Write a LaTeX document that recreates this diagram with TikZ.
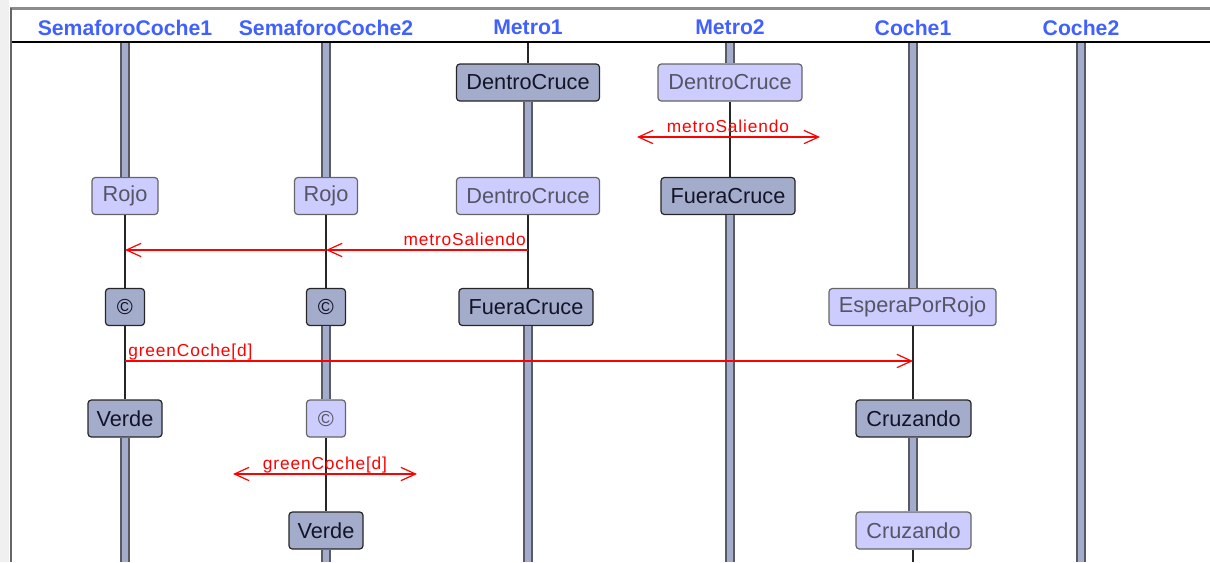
\documentclass[tikz,border=0pt]{standalone}
\usepackage{fontspec}
\setmainfont{Liberation Sans}
\newfontfamily\msgfont[LetterSpace=5]{Liberation Sans}
\usetikzlibrary{arrows.meta}

\definecolor{hdrblue}{RGB}{64,96,255}
\definecolor{barfill}{RGB}{164,172,204}
\definecolor{barline}{RGB}{90,90,100}
\definecolor{lightfill}{RGB}{204,204,255}
\definecolor{msgred}{RGB}{255,0,0}
\definecolor{darktext}{RGB}{20,20,40}
\definecolor{lighttext}{RGB}{85,85,100}

\tikzset{
  statebox/.style={rectangle, rounded corners=2.5pt, minimum height=27.75pt,
    inner sep=0pt, line width=0.9pt, font=\fontsize{16.3}{19}\selectfont},
  active/.style={statebox, fill=barfill, draw=black!85, text=darktext},
  passive/.style={statebox, fill=lightfill, draw=black!60, text=lighttext},
  bar/.style={draw=barline, line width=1.2pt, double=barfill, double distance=5.2pt},
  wire/.style={draw=black!85, line width=0.9pt},
  msg/.style={draw=msgred, line width=0.9pt},
  msglabel/.style={text=msgred, inner sep=0pt, font=\msgfont\fontsize{13}{15}\selectfont},
  header/.style={text=hdrblue, inner sep=0pt, font=\bfseries\fontsize{15.9}{18}\selectfont},
  >={Straight Barb[length=11pt,width=10pt]}
}

\begin{document}
\begin{tikzpicture}[x=0.75pt, y=-0.75pt]
\useasboundingbox (0,0) rectangle (1210,562);

% window frame
\fill[black!6] (0,0) rectangle (9,562);
\draw[black!45, line width=2pt] (10,8.5) -- (1210,8.5);
\draw[black!60, line width=1.6pt] (10.8,8) -- (10.8,562);
\draw[black, line width=1.3pt] (12,42) -- (1210,42);

% lifeline headers
\node[header] (hs1) at (125,27.5) {SemaforoCoche1};
\node[header] (hs2) at (326,27.5) {SemaforoCoche2};
\node[header] (hm1) at (528,27.5) {Metro1};
\node[header] (hm2) at (730,27.5) {Metro2};
\node[header] (hc1) at (913,27.5) {Coche1};
\node[header] (hc2) at (1081,27.5) {Coche2};

% lifeline ends
\coordinate (t1) at (125,43);  \coordinate (b1) at (125,562);
\coordinate (t2) at (326,43);  \coordinate (b2) at (326,562);
\coordinate (t3) at (528,43);  \coordinate (b3) at (528,562);
\coordinate (t4) at (730,43);  \coordinate (b4) at (730,562);
\coordinate (t5) at (913,43);  \coordinate (b5) at (913,562);
\coordinate (t6) at (1081,43); \coordinate (b6) at (1081,562);

% states
\node[passive, minimum width=49.5pt]  (s1a) at (125,196)   {Rojo};
\node[active,  minimum width=29.25pt] (s1b) at (125,307)   {©};
\node[active,  minimum width=55.5pt]  (s1c) at (125,418.5) {Verde};

\node[passive, minimum width=47.25pt] (s2a) at (326,196)   {Rojo};
\node[active,  minimum width=29.25pt] (s2b) at (326,307)   {©};
\node[passive, minimum width=29.25pt] (s2c) at (326,418.5) {©};
\node[active,  minimum width=55.5pt]  (s2d) at (326,530.5) {Verde};

\node[active,  minimum width=107.25pt] (m1a) at (528,82.5) {DentroCruce};
\node[passive, minimum width=107.25pt] (m1b) at (528,196)  {DentroCruce};
\node[active,  minimum width=100.5pt]  (m1c) at (526,307)  {FueraCruce};

\node[passive, minimum width=108pt]    (m2a) at (730,82.5) {DentroCruce};
\node[active,  minimum width=100.5pt]  (m2b) at (728,196)  {FueraCruce};

\node[passive, minimum width=125.25pt] (c1a) at (912.5,307)   {EsperaPorRojo};
\node[active,  minimum width=86.25pt]  (c1b) at (913.5,418.5) {Cruzando};
\node[passive, minimum width=86.25pt]  (c1c) at (913.5,530.5) {Cruzando};

% lifelines: thick bar while idle, thin wire between states
\draw[bar]  (t1) -- (s1a.north);
\draw[wire] (s1a.south) -- (s1b.north);
\draw[wire] (s1b.south) -- (s1c.north);
\draw[bar]  (s1c.south) -- (b1);

\draw[bar]  (t2) -- (s2a.north);
\draw[wire] (s2a.south) -- (s2b.north);
\draw[bar]  (s2b.south) -- (s2c.north);
\draw[wire] (s2c.south) -- (s2d.north);
\draw[bar]  (s2d.south) -- (b2);

\draw[wire] (t3) -- (m1a.north);
\draw[bar]  (m1a.south) -- (m1b.north);
\draw[wire] (m1b.south) -- (m1c.north -| m1b.south);
\draw[bar]  (m1c.south -| b3) -- (b3);

\draw[bar]  (t4) -- (m2a.north);
\draw[wire] (m2a.south) -- (m2b.north -| m2a.south);
\draw[bar]  (m2b.south -| b4) -- (b4);

\draw[bar]  (t5) -- (c1a.north -| t5);
\draw[wire] (c1a.south -| t5) -- (c1b.north -| t5);
\draw[bar]  (c1b.south -| t5) -- (c1c.north -| t5);
\draw[wire] (c1c.south -| t5) -- (b5);

\draw[bar]  (t6) -- (b6);

% messages
\coordinate (bl1) at (637,137);
\coordinate (br1) at (820,137);
\draw[msg, <->] (bl1) -- (br1);
\node[msglabel, anchor=base] (l1) at (728,132.5) {metroSaliendo};

\coordinate (m1s) at (528,250);
\coordinate (s2r) at (326,250);
\coordinate (s1r) at (125,250);
\draw[msg, ->] (m1s) -- (s2r);
\draw[msg, ->] (s2r) -- (s1r);
\node[msglabel, anchor=base east] (l2) at (526,245.5) {metroSaliendo};

\coordinate (s1g) at (125,361);
\coordinate (c1g) at (913,361);
\draw[msg, ->] (s1g) -- (c1g);
\node[msglabel, anchor=base west] (l3) at (128,356) {greenCoche[d]};

\coordinate (bl2) at (233,474);
\coordinate (br2) at (417,474);
\draw[msg, <->] (bl2) -- (br2);
\node[msglabel, anchor=base] (l4) at (325,469.5) {greenCoche[d]};
\end{tikzpicture}
\end{document}
